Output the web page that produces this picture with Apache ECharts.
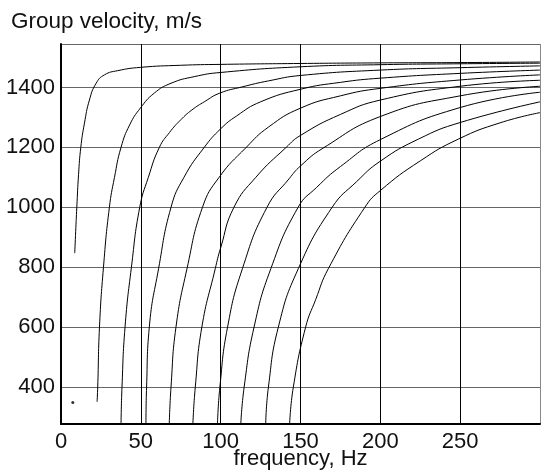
<!DOCTYPE html>
<html>
<head>
<meta charset="utf-8">
<script src="https://cdn.jsdelivr.net/npm/echarts@6/dist/echarts.min.js"></script>
<style>
html,body{margin:0;padding:0;background:#fff;}
#chart{width:541px;height:476px;}
</style>
</head>
<body>
<div id="chart"></div>
<script>
var titleText = 'Group velocity, m/s';
var xName = 'frequency, Hz';
var xTicks = [0, 50, 100, 150, 200, 250];
var yTicks = [400, 600, 800, 1000, 1200, 1400];

var mode1 = [[8.6,847],[9.2,920],[9.9,1000],[11,1110],[12.4,1200],[14.7,1281],[17.8,1358],[22,1414],[27.2,1442],[35.5,1456],[49.7,1467],[75,1474],[100,1477],[150,1480],[200,1482],[250,1483],[300,1485]];
var mode2 = [[22.6,351],[23.0,400],[24.1,600],[26.6,800],[30.3,1000],[33.5,1100],[37.6,1200],[43,1275],[49.7,1331],[58.4,1381],[68.9,1414],[83.4,1436],[100,1450],[150,1469],[200,1476],[250,1479],[300,1481]];
var mode3 = [[37.6,277],[38.2,400],[40.1,600],[44.1,800],[49.3,1000],[54.7,1100],[61.6,1200],[68,1250],[75,1292],[82,1325],[90,1353],[99.4,1381],[113.6,1402],[130,1422],[150,1440],[200,1458],[250,1466],[300,1472]];
var mode4 = [[53.2,277],[53.6,400],[55.3,600],[61.1,795],[68.9,1000],[77,1100],[89.7,1200],[100,1262],[110,1305],[125,1352],[150,1394],[175,1417],[200,1431],[250,1447],[300,1458]];
var mode5 = [[67.8,277],[68.9,400],[72.0,600],[78.9,795],[88.6,1000],[99,1100],[116,1200],[130,1268],[150,1331],[175,1372],[200,1397],[250,1425],[300,1442]];
var mode6 = [[82.6,277],[84.1,400],[88.2,600],[96.6,795],[100,865],[108.3,1000],[122,1100],[141,1200],[150,1240],[175,1310],[200,1358],[250,1404],[300,1424]];
var mode7 = [[98.0,277],[99.5,400],[104.3,600],[113.6,795],[129,1000],[142.8,1095],[150,1138],[164,1197],[200,1303],[250,1372],[300,1404]];
var mode8 = [[112.6,277],[114.7,400],[120.9,600],[131.4,795],[148.5,1000],[160,1066],[175,1136],[200,1226],[250,1333],[300,1384]];
var mode9 = [[128.2,277],[129.9,400],[136.1,600],[148.6,795],[169.8,1000],[185,1085],[200,1154],[224,1228],[250,1283],[300,1352]];
var mode10 = [[143.2,277],[145.5,400],[153.2,600],[159.5,692],[167.4,795],[190.3,1000],[200,1056],[225,1155],[249,1228],[275,1282],[300,1316]];
var dotPoint = [[7.4,349]];

var modes = [mode1, mode2, mode3, mode4, mode5, mode6, mode7, mode8, mode9, mode10];

var FONT = 'Liberation Sans, Arial, sans-serif';
var chart = echarts.init(document.getElementById('chart'), null, {renderer: 'canvas'});

var series = modes.map(function (m, i) {
  return {
    type: 'line',
    name: 'mode ' + (i + 1),
    data: m,
    smooth: 0.5,
    showSymbol: false,
    symbol: 'none',
    clip: true,
    lineStyle: {color: '#000', width: 1},
    animation: false,
    z: 3
  };
});
series.push({
  type: 'scatter',
  data: dotPoint,
  symbol: 'circle',
  symbolSize: 3,
  itemStyle: {color: '#000'},
  animation: false,
  z: 4
});

chart.setOption({
  animation: false,
  backgroundColor: '#fff',
  title: {
    text: titleText,
    left: 11,
    top: 10,
    padding: 0,
    textStyle: {fontFamily: FONT, fontSize: 22.5, fontWeight: 'normal', color: '#111'}
  },
  grid: {left: 61, right: 1, top: 44, bottom: 52, containLabel: false},
  xAxis: {
    type: 'value',
    min: 0,
    max: 300,
    interval: 50,
    name: xName,
    nameLocation: 'middle',
    nameGap: 24,
    nameMoveOverlap: false,
    nameTextStyle: {fontFamily: FONT, fontSize: 22, color: '#111'},
    axisLine: {show: true, onZero: false, lineStyle: {color: '#000', width: 2}},
    axisTick: {show: false},
    axisLabel: {
      fontFamily: FONT, fontSize: 22, color: '#111', margin: 7,
      showMaxLabel: false,
      formatter: function (v) { return xTicks.indexOf(v) >= 0 ? String(v) : ''; }
    },
    splitLine: {show: true, lineStyle: {color: ['#000','#000','#000','#000','#000','#000','#888'], width: 1}}
  },
  yAxis: {
    type: 'value',
    min: 277,
    max: 1545,
    splitNumber: 6,
    axisLine: {show: true, onZero: false, lineStyle: {color: '#000', width: 2}},
    axisTick: {show: false},
    axisLabel: {
      fontFamily: FONT, fontSize: 22, color: '#111', margin: 6,
      showMinLabel: false, showMaxLabel: false,
      formatter: function (v) { return yTicks.indexOf(v) >= 0 ? String(v) : ''; }
    },
    splitLine: {show: true, lineStyle: {color: '#666', width: 1}}
  },
  series: series
});
</script>
</body>
</html>
